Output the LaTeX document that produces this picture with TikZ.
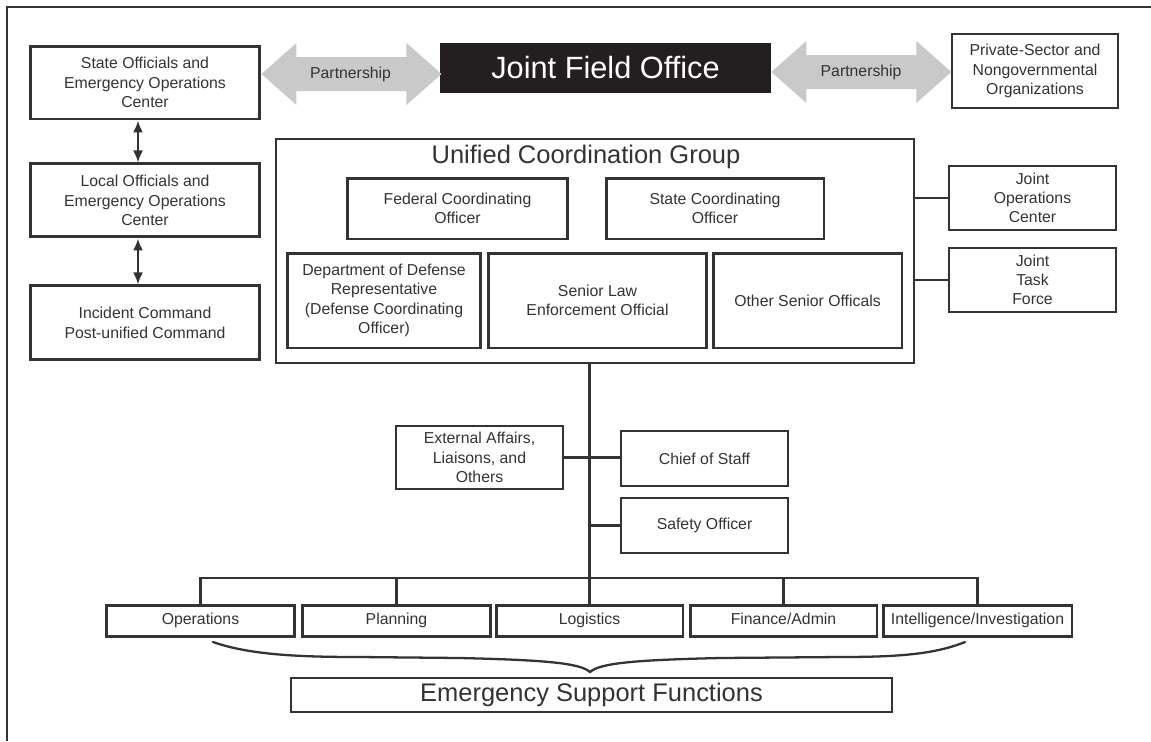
\documentclass[tikz,border=0pt]{standalone}
\usepackage{fontspec}
\setmainfont{Liberation Sans}
\usetikzlibrary{arrows.meta,positioning}
\definecolor{ink}{HTML}{333333}
\definecolor{jfoblack}{HTML}{231F20}
\definecolor{partgray}{HTML}{C9C9C9}
\tikzset{
    %Define standard arrow tip
    >={Latex[length=0.24cm,width=0.2cm]},
    %Define style for boxes
    box/.style={
           rectangle,
           draw=ink, line width=1.3pt,
           text=ink,
           inner sep=0pt,
           align=center,
           font=\fontsize{9}{11}\selectfont},
    heavybox/.style={box, line width=1.7pt},
    % Define style for the section boxes in the bottom row
    section/.style={
           heavybox,
           minimum height=0.62cm,
           text height=0.72em,
           text depth=0.22em},
    % Define style for big titles
    bigtext/.style={
           text=ink,
           font=\fontsize{14.5}{17}\selectfont},
    % Define line style
    link/.style={
           draw=ink,
           line width=1.2pt},
    % gray partnership arrows
    partner/.style={fill=partgray},
    partlbl/.style={
           text=ink,
           font=\fontsize{9}{11}\selectfont},
}

\begin{document}
\begin{tikzpicture}[x=0.02cm, y=-0.02cm, node distance=0.84cm]
\useasboundingbox (0,0) rectangle (1151,741);

% frame
\draw[link] (7,741) -- (7,7) -- (1151,7);

%nodes
\node[heavybox, minimum width=4.6cm, minimum height=1.46cm] (st) at (145,82.5) {State Officials and\\Emergency Operations\\Center};
\node[heavybox, below=0.84cm of st, minimum width=4.6cm, minimum height=1.46cm] (lo) {Local Officials and\\Emergency Operations\\Center};
\node[heavybox, below=0.92cm of lo, minimum width=4.6cm, minimum height=1.48cm] (ic) {Incident Command\\Post-unified Command};

\node[rectangle, fill=jfoblack, text=white, inner sep=0pt, minimum width=6.62cm, minimum height=1cm,
      font=\fontsize{17.5}{21}\selectfont] (jfo) at (605.5,68) {Joint Field Office};
\node[box, minimum width=3.32cm, minimum height=1.48cm] (pso) at (1035,71) {Private-Sector and\\Nongovernmental\\Organizations};

\node[rectangle, draw=ink, line width=1.1pt, minimum width=12.76cm, minimum height=4.48cm] (ucg) at (595,251) {};
\node[bigtext] (ucgt) at (586,157) {Unified Coordination Group};
\node[heavybox, minimum width=4.42cm, minimum height=1.22cm] (fco) at (457.5,208.5) {Federal Coordinating\\Officer};
\node[heavybox, minimum width=4.36cm, minimum height=1.22cm] (sco) at (715,208.5) {State Coordinating\\Officer};
\node[heavybox, minimum width=3.88cm, minimum height=1.9cm] (dod) at (384,300.5) {Department of Defense\\Representative\\(Defense Coordinating\\Officer)};
\node[heavybox, minimum width=4.38cm, minimum height=1.9cm] (sle) at (597.5,300.5) {Senior Law\\Enforcement Official};
\node[heavybox, minimum width=3.78cm, minimum height=1.9cm] (oso) at (807.5,300.5) {Other Senior Officals};

\node[box, minimum width=3.34cm, minimum height=1.28cm] (joc) at (1032.5,198) {Joint\\Operations\\Center};
\node[box, minimum width=3.34cm, minimum height=1.28cm] (jtf) at (1032.5,280) {Joint\\Task\\Force};

\node[box, minimum width=3.34cm, minimum height=1.26cm] (ext) at (479.5,457.5) {External Affairs,\\Liaisons, and\\Others};
\node[box, minimum width=3.34cm, minimum height=1.1cm] (cos) at (704.5,458.5) {Chief of Staff};
\node[box, minimum width=3.34cm, minimum height=1.1cm] (saf) at (704.5,525.5) {Safety Officer};

\node[section, minimum width=3.78cm] (ops) at (200.5,620.5) {Operations};
\node[section, minimum width=3.78cm] (pln) at (396.5,620.5) {Planning};
\node[section, minimum width=3.74cm] (lgs) at (589.5,620.5) {Logistics};
\node[section, minimum width=3.74cm] (fin) at (783.5,620.5) {Finance/Admin};
\node[section, minimum width=3.78cm] (itl) at (977.5,620.5) {Intelligence/Investigation};

\node[box, bigtext, minimum width=12.02cm, minimum height=0.68cm] (esf) at (591.5,695) {Emergency Support Functions};

% partnership arrows
\coordinate (lp) at (0,74);
\coordinate (rp) at (0,72);
\fill[partner] (st.east |- lp) -- ++(35,-31) -- ++(0,14) -- ++(110,0) -- ++(0,-14) -- ++(35,31)
    -- ++(-35,31) -- ++(0,-14) -- ++(-110,0) -- ++(0,14) -- cycle;
\fill[partner] (jfo.east |- rp) -- ++(35,-31) -- ++(0,14) -- ++(110,0) -- ++(0,-14) -- ++(35,31)
    -- ++(-35,31) -- ++(0,-14) -- ++(-110,0) -- ++(0,14) -- cycle;
\path (st.east |- lp) -- node[partlbl] {Partnership} (jfo.west |- lp);
\path (jfo.east |- rp) -- node[partlbl] {Partnership} (pso.west |- rp);

% connectors
\draw[<->, link] ([xshift=-0.14cm]st.south) -- ([xshift=-0.14cm]lo.north);
\draw[<->, link] ([xshift=-0.14cm]lo.south) -- ([xshift=-0.14cm]ic.north);
\draw[link] (joc.west -| ucg.east) -- (joc.west);
\draw[link] (jtf.west -| ucg.east) -- (jtf.west);
\draw[link] (ucg.south -| lgs.north) -- (lgs.north);
\draw[link] (ext.east) -- (ext.east -| cos.west);
\draw[link] (saf.west) -- (saf.west -| lgs.north);

\coordinate (bus) at (590,578);
\draw[link] (ops.north) |- (bus) -| (itl.north);
\draw[link] (pln.north) -- (pln.north |- bus);
\draw[link] (fin.north) -- (fin.north |- bus);

% brace
\draw[link, line width=1.3pt, line cap=round]
    (213,642) .. controls (250,655) and (300,657) .. (360,657) -- (460,658)
    .. controls (545,660) and (580,663) .. (590,672)
    .. controls (600,663) and (635,660) .. (720,658) -- (840,657)
    .. controls (900,657) and (935,654) .. (965,642);

\end{tikzpicture}
\end{document}
